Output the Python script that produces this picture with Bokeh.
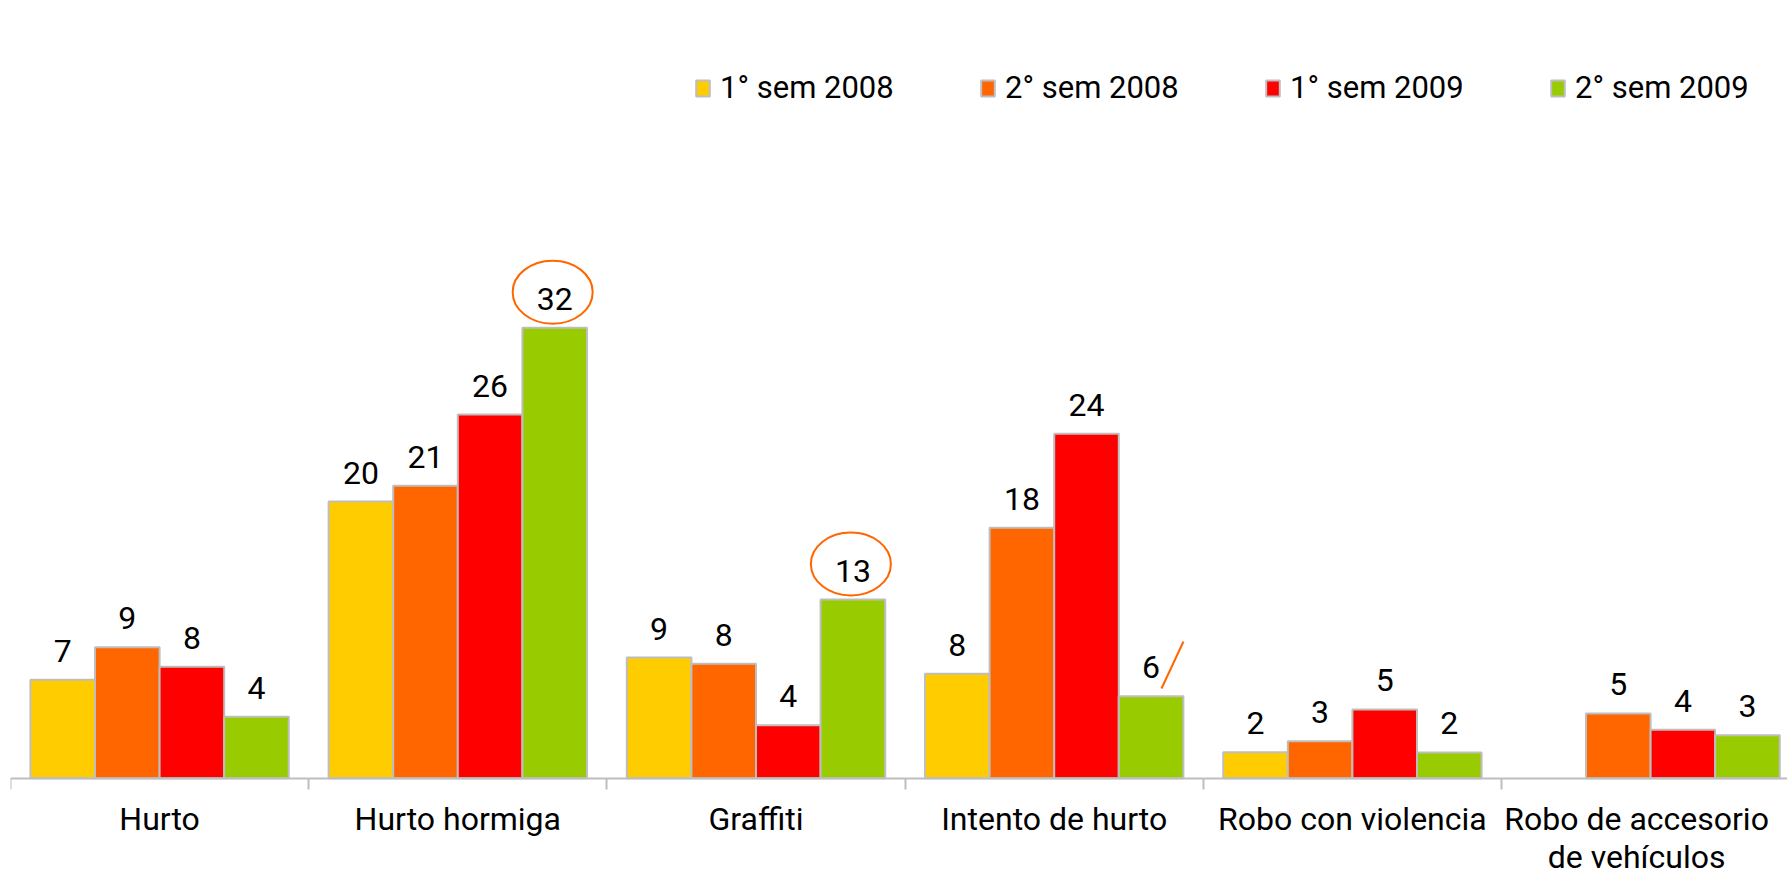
import math
from bokeh.plotting import figure
from bokeh.models import FixedTicker, Legend, LegendItem, Range1d
from bokeh.core.properties import value
from bokeh.embed import file_html
from bokeh.resources import INLINE

# ---------------- data ----------------
categories = ["Hurto", "Hurto hormiga", "Graffiti", "Intento de hurto",
              "Robo con violencia", "Robo de accesorio\nde vehículos"]
series_names = ["1° sem 2008", "2° sem 2008", "1° sem 2009", "2° sem 2009"]

# bar heights
sem1_2008 = [7.0, 19.65, 8.57, 7.41, 1.85, float("nan")]
sem2_2008 = [9.30, 20.77, 8.12, 17.78, 2.63, 4.60]
sem1_2009 = [7.91, 25.83, 3.76, 24.46, 4.88, 3.44]
sem2_2009 = [4.36, 32.0, 12.69, 5.82, 1.83, 3.05]

# data labels as printed on the chart
lbl1_2008 = ["7", "20", "9", "8", "2", ""]
lbl2_2008 = ["9", "21", "8", "18", "3", "5"]
lbl1_2009 = ["8", "26", "4", "24", "5", "4"]
lbl2_2009 = ["4", "32", "13", "6", "2", "3"]

colors = ["#FFCC00", "#FF6600", "#FF0000", "#99CC00"]

# highlighted bars (category index, series index)
circled = [(1, 3), (2, 3)]
slashed = [(3, 3)]

# ---------------- layout constants ----------------
FONT = "Roboto"
W, H = 1787, 879
LEFT = 10
CAT_PX = 298.2           # pixel width of one category
UNIT_PX = 14.08          # pixels per value unit
BASE_FROM_BOTTOM = 101.3 # pixels from frame bottom to the zero line
FRAME_W = W - LEFT
BAR_W = 0.2166
offsets = [-1.5 * BAR_W, -0.5 * BAR_W, 0.5 * BAR_W, 1.5 * BAR_W]
LAST_LABEL_SHIFT_PX = 14  # keep the last (cropped) category label inside the page

all_vals = [sem1_2008, sem2_2008, sem1_2009, sem2_2009]
all_lbls = [lbl1_2008, lbl2_2008, lbl1_2009, lbl2_2009]

p = figure(width=W, height=H,
           x_range=Range1d(0, FRAME_W / CAT_PX),
           y_range=Range1d(-BASE_FROM_BOTTOM / UNIT_PX, (H - BASE_FROM_BOTTOM) / UNIT_PX),
           output_backend="svg", toolbar_location=None, y_axis_location=None,
           min_border_left=LEFT, min_border_right=0, min_border_top=0, min_border_bottom=0)
p.xgrid.visible = False
p.ygrid.visible = False
p.outline_line_color = None
p.background_fill_color = "white"
p.border_fill_color = "white"

legend_items = []
for i, (vals, lbls) in enumerate(zip(all_vals, all_lbls)):
    xs, tops, texts = [], [], []
    for c, (v, t) in enumerate(zip(vals, lbls)):
        if v is None or (isinstance(v, float) and math.isnan(v)):
            continue
        xs.append(c + 0.5 + offsets[i])
        tops.append(v)
        texts.append(t)
    r = p.vbar(x=xs, top=tops, bottom=0, width=BAR_W, fill_color=colors[i],
               line_color="#BEBEBE", line_width=2)
    legend_items.append(LegendItem(label=series_names[i], renderers=[r]))
    p.text(x=xs, y=tops, text=texts, text_align="center", text_baseline="alphabetic",
           y_offset=-29, text_font=value(FONT), text_font_size="32px", text_color="black")

# orange ellipses around highlighted values
ex = [c + 0.5 + offsets[s] - 2 / CAT_PX for c, s in circled]
ey = [all_vals[s][c] + 35.5 / UNIT_PX for c, s in circled]
p.ellipse(x=ex, y=ey, width=80, height=63, width_units="screen", height_units="screen",
          fill_color=None, line_color="#FF6600", line_width=2)

# orange slash next to a value
sx0 = [c + 0.5 + offsets[s] + 10.4 / CAT_PX for c, s in slashed]
sy0 = [all_vals[s][c] + 7.8 / UNIT_PX for c, s in slashed]
sx1 = [c + 0.5 + offsets[s] + 32.4 / CAT_PX for c, s in slashed]
sy1 = [all_vals[s][c] + 54.8 / UNIT_PX for c, s in slashed]
p.segment(x0=sx0, y0=sy0, x1=sx1, y1=sy1, line_color="#FF6600", line_width=2)

# x axis on the zero line: category labels at centres, tick marks at boundaries
label_pos = [c + 0.5 for c in range(len(categories))]
label_pos[-1] -= LAST_LABEL_SHIFT_PX / CAT_PX
ax = p.xaxis[0]
ax.fixed_location = 0
ax.ticker = FixedTicker(ticks=label_pos, minor_ticks=list(range(len(categories) + 1)))
ax.major_label_overrides = {pos: name for pos, name in zip(label_pos, categories)}
ax.major_tick_out = 0
ax.major_tick_in = 0
ax.minor_tick_out = 11
ax.minor_tick_in = 0
ax.minor_tick_line_color = "#BEBEBE"
ax.minor_tick_line_width = 2
ax.axis_line_color = "#BEBEBE"
ax.axis_line_width = 2
ax.major_label_standoff = 11
ax.major_label_text_font = FONT
ax.major_label_text_font_size = "32px"
ax.major_label_text_line_height = 1.0
ax.major_label_text_color = "black"

legend = Legend(items=legend_items, orientation="horizontal", location=(684, 773),
                glyph_width=17, glyph_height=20, label_standoff=9, label_width=200,
                spacing=59, padding=0, margin=0, border_line_color=None,
                background_fill_alpha=0, label_text_font=FONT,
                label_text_font_size="31px", label_text_color="black")
p.add_layout(legend, "center")

open("out.html", "w").write(file_html(p, INLINE))
